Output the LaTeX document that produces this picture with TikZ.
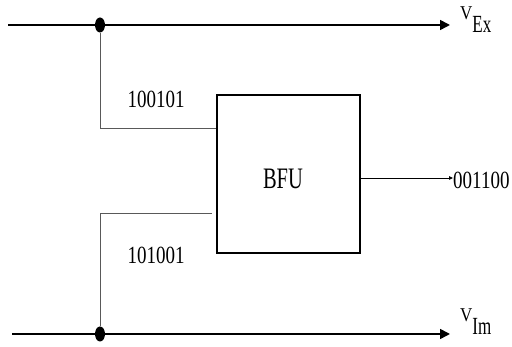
\documentclass[tikz,border=0pt]{standalone}
\usepackage{graphicx}
\usepackage{fontspec}
\setmainfont{Liberation Serif}
\usetikzlibrary{arrows.meta, shapes.geometric}
\newcommand{\tallbits}[1]{\scalebox{1}[1.3]{\fontsize{19}{21}\selectfont #1}}
\newcommand{\vsub}[1]{{\fontsize{17}{19}\selectfont\scalebox{1}[1.15]{V}\raisebox{-13pt}{\scalebox{1}[1.45]{#1}}}}

\begin{document}
\begin{tikzpicture}[
    x=1pt, y=1pt,
    lbl/.style={inner sep=0pt},
    junction/.style={ellipse, fill=black, minimum width=10pt, minimum height=15pt, inner sep=0pt},
    bus/.style={line width=1.6pt, -{Triangle[length=10pt,width=10pt]}},
    wire/.style={line width=0.8pt, black!65},
    unitbox/.style={draw, line width=1.3pt, minimum width=143pt, minimum height=158pt}
]
\useasboundingbox (0,0) rectangle (512,347);
% buses
\coordinate (exStart) at (8,322);
\coordinate (imStart) at (12,13);
\node[junction] (dotEx) at (100,322) {};
\node[junction] (dotIm) at (100,13) {};
\node[lbl, anchor=base west] (vEx) at (460,327) {\vsub{Ex}};
\node[lbl, anchor=base west] (vIm) at (460,25) {\vsub{Im}};
\draw[bus] (exStart) -- (dotEx.center) -- (450,322);
\draw[bus] (imStart) -- (dotIm.center) -- (450,13);
% butterfly unit
\node[unitbox] (bfu) at (288.5,173) {};
\node[lbl] (name) at (283,168) {\scalebox{1}[1.45]{\fontsize{20.5}{22}\selectfont BFU}};
\node[lbl] (inEx) at (156,248) {\tallbits{100101}};
\node[lbl] (inIm) at (156,92) {\tallbits{101001}};
\node[lbl, anchor=west] (result) at (453,167) {\tallbits{001100}};
\draw[wire] (dotEx) |- ([yshift=46pt]bfu.west);
\draw[wire] (dotIm) |- ([xshift=-4pt,yshift=-39pt]bfu.west);
\draw[line width=0.8pt, -{Triangle[length=4pt,width=3.5pt]}] ([yshift=-4pt]bfu.east) -- (result.west |- 0,169);
\end{tikzpicture}
\end{document}
